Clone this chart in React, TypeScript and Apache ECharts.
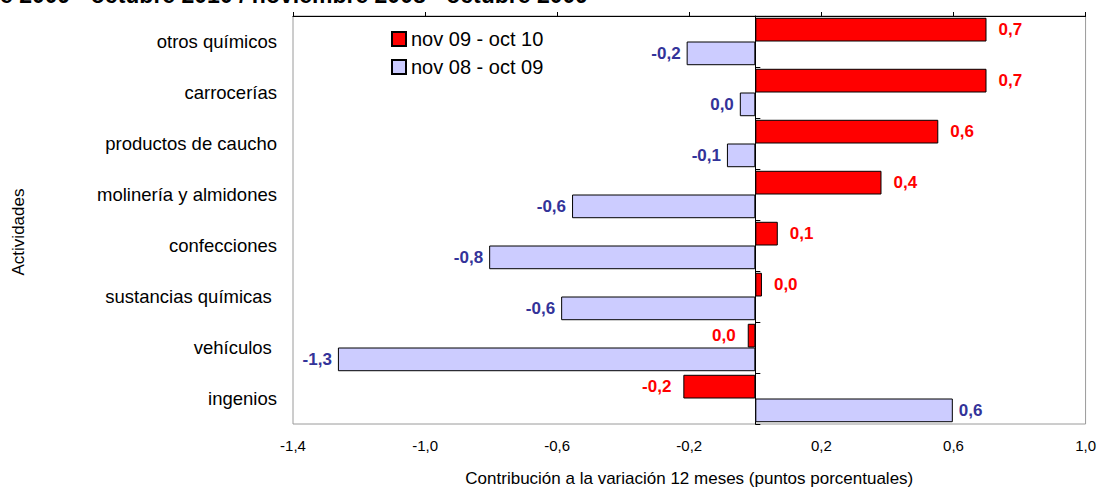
import React, { useEffect, useRef } from "react";
import * as echarts from "echarts";

const categories = [
  "otros químicos",
  "carrocerías",
  "productos de caucho",
  "molinería y almidones",
  "confecciones",
  "sustancias químicas ",
  "vehículos ",
  "ingenios",
];
const serieActual = [0.7, 0.7, 0.554, 0.382, 0.068, 0.02, -0.023, -0.218];
const serieAnterior = [-0.208, -0.047, -0.086, -0.555, -0.806, -0.588, -1.264, 0.598];
const seriesNames = ["nov 09 - oct 10", "nov 08 - oct 09"];
const xTicks = { min: -1.4, max: 1.0, interval: 0.4 };
const titleText = "e 2009 - octubre 2010 / noviembre 2008 - octubre 2009";
const xAxisName = "Contribución a la variación 12 meses (puntos porcentuales)";
const yAxisName = "Actividades";

const FONT = "'Liberation Sans', Arial, sans-serif";

const fmt = (v: number) => {
  const r = Math.round(v * 10) / 10;
  if (r === 0) return "0,0";
  return r.toFixed(1).replace(".", ",");
};

const buildData = (vals: number[]) =>
  vals.map((v) => ({
    value: v,
    label: { position: v < 0 ? "left" : "right" },
  }));

export default function App() {
  const ref = useRef<HTMLDivElement>(null);
  useEffect(() => {
    if (!ref.current) return;
    const chart = echarts.init(ref.current, undefined, {
      renderer: "svg",
      width: 1099,
      height: 492,
    });
    chart.setOption({
      animation: false,
      textStyle: { fontFamily: FONT },
      grid: {
        left: 293,
        right: 12,
        top: 16,
        bottom: 64,
        show: true,
        borderColor: "#9a9a9a",
        borderWidth: 1,
        backgroundColor: "transparent",
      },
      legend: {
        orient: "vertical",
        left: 386,
        top: 24,
        itemWidth: 14,
        itemHeight: 14,
        itemGap: 8,
        icon: "rect",
        textStyle: { fontFamily: FONT, fontSize: 20, color: "#000" },
        data: seriesNames,
      },
      xAxis: [
        {
          type: "value",
          position: "bottom",
          min: xTicks.min,
          max: xTicks.max,
          interval: xTicks.interval,
          axisLine: { show: false },
          axisTick: { show: false },
          splitLine: { show: false },
          axisLabel: {
            fontFamily: FONT,
            fontSize: 15,
            color: "#000",
            margin: 14,
            formatter: (v: number) => v.toFixed(1).replace(".", ","),
          },
          name: xAxisName,
          nameLocation: "middle",
          nameGap: 46,
          nameTextStyle: { fontFamily: FONT, fontSize: 17, color: "#000" },
        },
        {
          type: "value",
          position: "top",
          min: xTicks.min,
          max: xTicks.max,
          interval: xTicks.interval,
          axisLine: { show: true, onZero: false, lineStyle: { color: "#000", width: 1 } },
          axisTick: { show: true, inside: false, length: 4, lineStyle: { color: "#000" } },
          splitLine: { show: false },
          axisLabel: { show: false },
        },
      ],
      yAxis: [
        {
          type: "category",
          data: categories,
          inverse: true,
          position: "left",
          axisLine: { show: false, onZero: false },
          axisTick: { show: false },
          axisLabel: { fontFamily: FONT, fontSize: 18.5, color: "#000", margin: 16 },
        },
        {
          type: "category",
          data: categories,
          inverse: true,
          axisLine: { show: true, onZero: true, onZeroAxisIndex: 0, lineStyle: { color: "#000", width: 1 } },
          axisTick: { show: true, inside: false, length: 5, lineStyle: { color: "#000" } },
          axisLabel: { show: false },
        },
      ],
      graphic: [
        {
          type: "text",
          left: 0,
          top: -17,
          style: {
            text: titleText,
            fontFamily: FONT,
            fontSize: 23,
            fontWeight: "bold",
            fill: "#000",
          },
        },
        {
          type: "text",
          x: 18,
          y: 232,
          rotation: Math.PI / 2,
          style: {
            text: yAxisName,
            fontFamily: FONT,
            fontSize: 17,
            fill: "#000",
            align: "center",
            verticalAlign: "middle",
          },
        },
      ],
      series: [
        {
          name: seriesNames[0],
          type: "bar",
          xAxisIndex: 0,
          yAxisIndex: 0,
          data: buildData(serieActual),
          barGap: "0%",
          barCategoryGap: "7%",
          itemStyle: { color: "#FF0000", borderColor: "#000", borderWidth: 1 },
          label: {
            show: true,
            distance: 12,
            fontFamily: FONT,
            fontSize: 17,
            fontWeight: "bold",
            color: "#FF0000",
            formatter: (p: any) => fmt(p.value),
          },
        },
        {
          name: seriesNames[1],
          type: "bar",
          xAxisIndex: 0,
          yAxisIndex: 0,
          data: buildData(serieAnterior),
          barGap: "0%",
          barCategoryGap: "7%",
          itemStyle: { color: "#CCCCFF", borderColor: "#000", borderWidth: 1 },
          label: {
            show: true,
            distance: 6,
            fontFamily: FONT,
            fontSize: 17,
            fontWeight: "bold",
            color: "#333399",
            formatter: (p: any) => fmt(p.value),
          },
        },
      ],
    });
    return () => chart.dispose();
  }, []);
  return (
    <div
      ref={ref}
      style={{ position: "absolute", left: 0, top: 0, width: 1099, height: 492 }}
    />
  );
}
